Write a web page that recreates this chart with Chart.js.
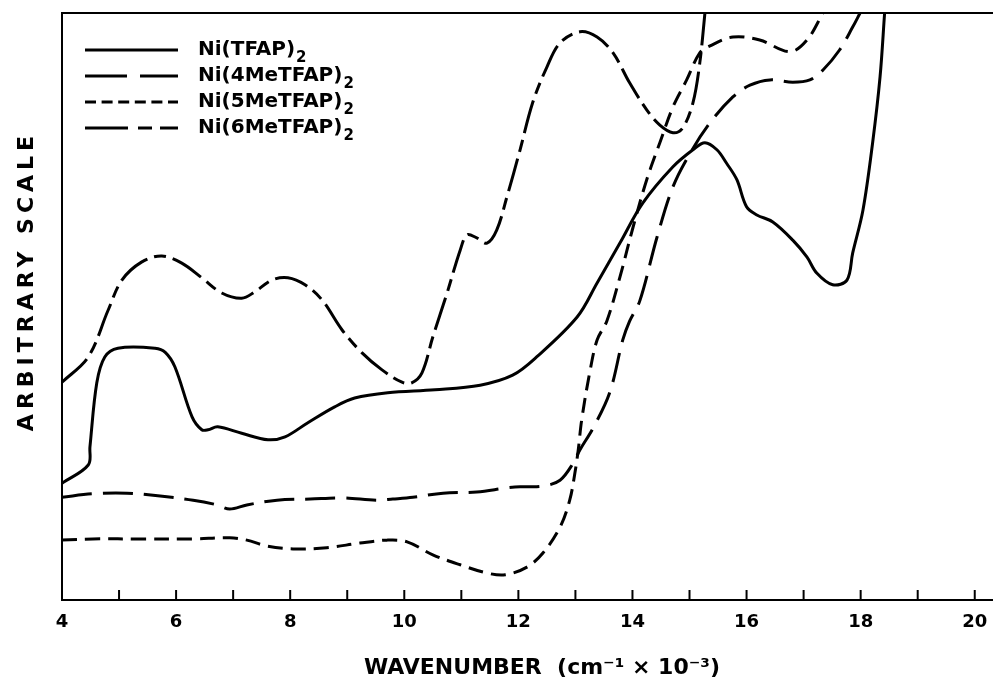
<!DOCTYPE html>
<html>
<head>
<meta charset="utf-8">
<script src="https://cdn.jsdelivr.net/npm/chart.js@4.4.1/dist/chart.umd.min.js"></script>
<style>
  html, body { margin: 0; padding: 0; background: #fff; }
  #wrap { width: 993px; height: 684px; }
</style>
</head>
<body>
<div id="wrap"><canvas id="c" width="993" height="684"></canvas></div>
<script>
// ---------------- DATA (wavenumber in 10^3 cm^-1, arbitrary intensity 0-100) ----------------
const seriesNames = ['Ni(TFAP)', 'Ni(4MeTFAP)', 'Ni(5MeTFAP)', 'Ni(6MeTFAP)'];
const seriesSub = '2';

const tfapX = [4.00, 4.46, 4.49, 4.61, 4.75, 4.98, 5.63, 5.81, 5.98, 6.28, 6.45, 6.56, 6.73, 7.15, 7.61, 7.91,
  8.31, 8.78, 9.13, 9.71, 10.54, 11.33, 11.90, 12.32, 13.03, 13.38, 13.78, 14.18, 14.71, 15.06, 15.27,
  15.48, 15.65, 15.83, 16.00, 16.18, 16.46, 16.81, 17.06, 17.23, 17.51, 17.76, 17.86, 18.04, 18.21, 18.34, 18.42];
const tfapY = [19.9, 23.0, 26.1, 37.0, 41.4, 42.9, 42.9, 42.2, 39.7, 31.2, 29.0, 29.0, 29.5, 28.4, 27.3, 27.8,
  30.2, 32.9, 34.4, 35.3, 35.8, 36.6, 38.3, 41.4, 48.2, 54.0, 60.8, 67.6, 73.8, 76.7, 77.9,
  76.7, 74.4, 71.6, 67.0, 65.6, 64.4, 61.3, 58.4, 55.7, 53.7, 54.5, 59.1, 66.4, 77.9, 89.1, 100];

const me4X = [4.00, 4.54, 5.14, 5.72, 6.30, 6.72, 6.94, 7.24, 7.77, 8.35, 8.92, 9.52, 9.80, 10.15, 10.68, 11.27,
  11.80, 12.03, 12.43, 12.73, 12.96, 13.08, 13.31, 13.60, 13.83, 13.95, 14.13, 14.43, 14.71, 15.01, 15.36,
  15.76, 16.06, 16.41, 16.81, 17.11, 17.34, 17.63, 17.86, 17.99];
const me4Y = [17.5, 18.1, 18.2, 17.7, 17.0, 16.2, 15.5, 16.2, 17.0, 17.2, 17.4, 17.0, 17.2, 17.5, 18.2, 18.4,
  19.1, 19.3, 19.4, 20.4, 23.3, 25.6, 29.3, 35.3, 44.3, 47.5, 51.0, 61.8, 70.4, 76.1, 81.3,
  85.7, 87.7, 88.6, 88.2, 88.6, 90.3, 93.7, 97.6, 100];

const me5X = [4.00, 4.54, 5.42, 6.30, 6.94, 7.24, 7.59, 8.05, 8.64, 9.22, 9.70, 10.05, 10.50, 10.98, 11.45, 11.77,
  12.15, 12.43, 12.73, 12.90, 12.99, 13.05, 13.11, 13.25, 13.38, 13.55, 13.78, 14.01, 14.25, 14.48, 14.71,
  14.95, 15.18, 15.36, 15.76, 16.23, 16.76, 17.06, 17.34];
const me5Y = [10.2, 10.4, 10.4, 10.4, 10.6, 10.2, 9.2, 8.7, 8.9, 9.7, 10.2, 9.9, 7.7, 6.0, 4.6, 4.3,
  5.6, 8.0, 12.4, 17.0, 21.6, 25.6, 30.7, 38.7, 44.3, 47.5, 55.0, 63.5, 71.6, 77.9, 84.0,
  88.6, 93.2, 94.4, 95.9, 95.4, 93.4, 95.4, 100];

const me6X = [4.00, 4.46, 4.81, 5.05, 5.40, 5.75, 6.10, 6.45, 6.80, 7.15, 7.38, 7.68, 7.96, 8.26, 8.56, 8.91,
  9.26, 9.61, 9.96, 10.13, 10.31, 10.50, 10.75, 10.98, 11.10, 11.27, 11.45, 11.62, 11.80, 12.03, 12.25,
  12.50, 12.73, 13.08, 13.38, 13.66, 13.95, 14.25, 14.48, 14.71, 14.88, 15.06, 15.18, 15.27];
const me6Y = [37.1, 41.4, 49.4, 54.5, 57.6, 58.6, 57.4, 54.9, 52.3, 51.4, 52.5, 54.5, 54.9, 53.7, 51.1, 46.0,
  42.1, 39.2, 37.1, 37.0, 38.7, 44.8, 52.3, 59.6, 62.2, 61.7, 60.8, 63.0, 68.7, 76.7, 84.7,
  90.8, 94.9, 96.8, 95.9, 93.2, 88.1, 83.5, 80.9, 79.6, 80.4, 84.7, 91.5, 100];

const tickValues = [4, 5, 6, 7, 8, 9, 10, 11, 12, 13, 14, 15, 16, 17, 18, 19, 20];
const tickLabels = ['4', '', '6', '', '8', '', '10', '', '12', '', '14', '', '16', '', '18', '', '20'];
const xMin = 4, xMax = 20.32, yMin = 0, yMax = 100;
const xTitle = 'WAVENUMBER  (cm⁻¹ × 10⁻³)';
const yTitle = 'ARBITRARY SCALE';

// ---------------- STYLE ----------------
const dashes = [[], [30, 11], [15, 8], [34, 7, 12, 7]];
const legendDashes = [[], [42, 13], [11, 5.6], [43, 10, 14, 8, 20]];
const FONT = '"DejaVu Sans", sans-serif';

function pts(xs, ys) { return xs.map((x, i) => ({ x: x, y: ys[i] })); }
const seriesData = [pts(tfapX, tfapY), pts(me4X, me4Y), pts(me5X, me5Y), pts(me6X, me6Y)];

const framePlugin = {
  id: 'frame',
  afterDraw(chart) {
    const { ctx, chartArea: a, scales } = chart;
    ctx.save();
    ctx.strokeStyle = '#000';
    ctx.lineWidth = 2;
    ctx.setLineDash([]);
    // top border
    ctx.beginPath(); ctx.moveTo(a.left, a.top); ctx.lineTo(a.right, a.top); ctx.stroke();
    // inward ticks
    tickValues.forEach(v => {
      const px = scales.x.getPixelForValue(v);
      ctx.beginPath(); ctx.moveTo(px, a.bottom); ctx.lineTo(px, a.bottom - 10); ctx.stroke();
    });
    // axis titles
    ctx.fillStyle = '#000';
    ctx.font = 'bold 22px ' + FONT;
    ctx.textAlign = 'center';
    ctx.textBaseline = 'middle';
    ctx.fillText(xTitle, 542, 668);
    ctx.save();
    ctx.translate(27, 281);
    ctx.rotate(-Math.PI / 2);
    try { ctx.letterSpacing = '5px'; } catch (e) {}
    ctx.fillText(yTitle, 0, 0);
    ctx.restore();
    // legend
    const rows = [50, 76, 102, 128];
    seriesNames.forEach((name, i) => {
      const y = rows[i];
      ctx.lineWidth = 3;
      ctx.setLineDash(legendDashes[i]);
      ctx.beginPath(); ctx.moveTo(85, y); ctx.lineTo(178, y); ctx.stroke();
      ctx.setLineDash([]);
      ctx.textAlign = 'left';
      ctx.textBaseline = 'middle';
      ctx.font = 'bold 20px ' + FONT;
      ctx.fillText(name, 198, y);
      const w = ctx.measureText(name).width;
      ctx.font = 'bold 15px ' + FONT;
      ctx.fillText(seriesSub, 198 + w + 1, y + 8);
    });
    ctx.restore();
  }
};

new Chart(document.getElementById('c'), {
  type: 'line',
  data: {
    datasets: seriesData.map((d, i) => ({
      label: seriesNames[i] + seriesSub,
      data: d,
      borderColor: '#000',
      borderWidth: 3,
      borderDash: dashes[i],
      pointRadius: 0,
      fill: false,
      tension: 0.35,
      borderCapStyle: 'butt'
    }))
  },
  options: {
    responsive: false,
    animation: false,
    layout: { padding: { top: 13, right: 0, left: 0, bottom: 0 } },
    plugins: { legend: { display: false }, tooltip: { enabled: false } },
    scales: {
      x: {
        type: 'linear', min: xMin, max: xMax,
        afterBuildTicks: s => { s.ticks = tickValues.map(v => ({ value: v })); },
        afterFit: s => { s.height = 84; s.paddingLeft = 0; s.paddingRight = 0; },
        grid: { display: false, drawTicks: false },
        border: { display: true, color: '#000', width: 2 },
        ticks: {
          autoSkip: false, maxRotation: 0, minRotation: 0, padding: 12, color: '#000',
          font: { family: FONT, size: 18, weight: 'bold' },
          callback: (v, i) => tickLabels[i]
        }
      },
      y: {
        type: 'linear', min: yMin, max: yMax,
        afterFit: s => { s.width = 62; },
        grid: { display: false, drawTicks: false },
        border: { display: true, color: '#000', width: 2 },
        ticks: { display: false }
      }
    }
  },
  plugins: [framePlugin]
});
</script>
</body>
</html>
